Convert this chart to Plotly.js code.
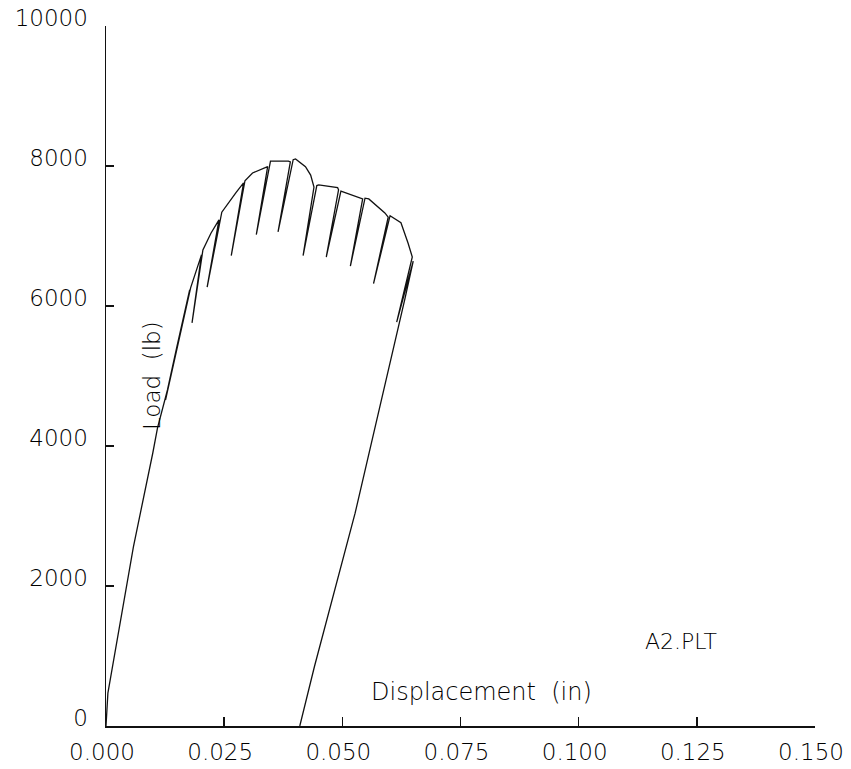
<!DOCTYPE html>
<html>
<head>
<meta charset="utf-8">
<script src="https://cdn.plot.ly/plotly-3.0.1.min.js"></script>
<style>
  html, body { margin: 0; padding: 0; background: #ffffff; }
  #chart { width: 851px; height: 769px; }
</style>
</head>
<body>
<div id="chart"></div>
<script>
// Displacement (in) and load (lb), in drawing order
const dispIn = [
  0.0000, 0.0004, 0.0058, 0.0079, 0.0099, 0.0109, 0.0130, 0.0150, 0.0171,
  0.0177, 0.0126, 0.0179,
  0.0202, 0.0182, 0.0205, 0.0222,
  0.0239, 0.0214, 0.0245, 0.0275,
  0.0291, 0.0265, 0.0294, 0.0310,
  0.0342, 0.0318, 0.0348, 0.0386,
  0.0390, 0.0364, 0.0396, 0.0401, 0.0422, 0.0433,
  0.0440, 0.0417, 0.0446, 0.0450, 0.0490,
  0.0492, 0.0466, 0.0497, 0.0501, 0.0540,
  0.0543, 0.0517, 0.0548, 0.0556, 0.0590,
  0.0597, 0.0566, 0.0601, 0.0624, 0.0639,
  0.0648, 0.0615, 0.0650, 0.0632, 0.0527, 0.0441, 0.0410
];
const loadLb = [
  0, 470, 2560, 3230, 3900, 4260, 4800, 5420, 6090,
  6230, 4660, 6260,
  6730, 5760, 6800, 7040,
  7230, 6270, 7340, 7620,
  7760, 6720, 7790, 7900,
  7990, 7020, 8070, 8070,
  8060, 7060, 8090, 8100, 7990, 7870,
  7700, 6720, 7720, 7730, 7690,
  7660, 6700, 7640, 7630, 7540,
  7530, 6570, 7540, 7530, 7330,
  7270, 6320, 7290, 7190, 6900,
  6700, 5770, 6640, 6090, 3040, 850, 0
];

const xTickVals = [0, 0.025, 0.05, 0.075, 0.1, 0.125, 0.15];
const xTickText = ['0.000', '0.025', '0.050', '0.075', '0.100', '0.125', '0.150'];
const yTickVals = [0, 2000, 4000, 6000, 8000, 10000];
const yTickText = ['0', '2000', '4000', '6000', '8000', '10000'];

const fontFamily = '"DejaVu Sans", "Liberation Sans", sans-serif';
const inkColor = '#000000';

const trace = {
  x: dispIn,
  y: loadLb,
  type: 'scatter',
  mode: 'lines',
  line: { color: '#111111', width: 1.3 },
  cliponaxis: false,
  hoverinfo: 'skip',
  showlegend: false
};

const layout = {
  width: 851,
  height: 769,
  margin: { l: 106, r: 36, t: 26, b: 43, pad: 0 },
  paper_bgcolor: '#ffffff',
  plot_bgcolor: '#ffffff',
  font: { family: fontFamily, color: inkColor, size: 22, weight: 200 },
  showlegend: false,
  xaxis: {
    range: [0, 0.15],
    tickmode: 'array',
    tickvals: xTickVals,
    ticktext: xTickText,
    ticks: 'inside',
    ticklen: 9,
    tickwidth: 1.5,
    tickcolor: '#111111',
    showline: true,
    linecolor: '#111111',
    linewidth: 1.5,
    showgrid: false,
    zeroline: false,
    ticklabelstandoff: 5,
    ticklabelshift: -4,
    tickfont: { family: fontFamily, size: 23, color: inkColor, weight: 200 },
    fixedrange: true
  },
  yaxis: {
    range: [0, 10000],
    tickmode: 'array',
    tickvals: yTickVals,
    ticktext: yTickText,
    ticks: 'inside',
    ticklen: 8,
    tickwidth: 1.5,
    tickcolor: '#111111',
    showline: true,
    linecolor: '#111111',
    linewidth: 1.5,
    showgrid: false,
    zeroline: false,
    ticklabelstandoff: 12,
    ticklabelshift: -8,
    tickfont: { family: fontFamily, size: 23, color: inkColor, weight: 200 },
    fixedrange: true
  },
  annotations: [
    {
      text: 'Load&nbsp;&nbsp;(lb)',
      xref: 'paper', yref: 'paper',
      x: 0.065, y: 0.50,
      xanchor: 'center', yanchor: 'middle',
      textangle: -90,
      showarrow: false,
      font: { family: fontFamily, size: 23, color: inkColor, weight: 200 }
    },
    {
      text: 'Displacement&nbsp;&nbsp;(in)',
      xref: 'paper', yref: 'paper',
      x: 0.530, y: 0.049,
      xanchor: 'center', yanchor: 'middle',
      showarrow: false,
      font: { family: fontFamily, size: 24, color: inkColor, weight: 200 }
    },
    {
      text: 'A2.PLT',
      xref: 'paper', yref: 'paper',
      x: 0.811, y: 0.121,
      xanchor: 'center', yanchor: 'middle',
      showarrow: false,
      font: { family: fontFamily, size: 22, color: inkColor, weight: 200 }
    }
  ]
};

Plotly.newPlot('chart', [trace], layout, { displayModeBar: false, staticPlot: true });
</script>
</body>
</html>
